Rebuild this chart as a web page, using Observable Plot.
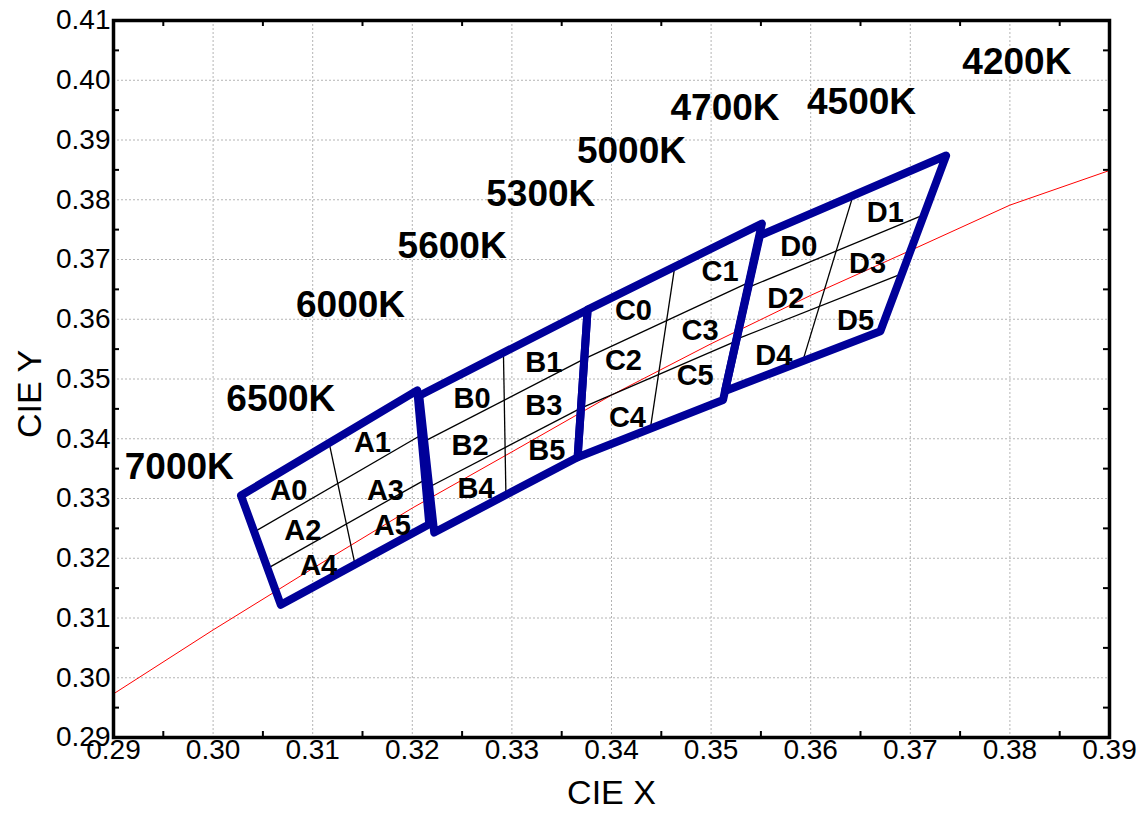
<!DOCTYPE html>
<html><head><meta charset="utf-8">
<script src="https://cdn.jsdelivr.net/npm/d3@7"></script>
<script src="https://cdn.jsdelivr.net/npm/@observablehq/plot@0.6"></script>
<style>body{margin:0;background:#fff;}</style>
</head><body><div id="chart"></div>
<script>
// ---- data (CIE 1931 x,y) ----
const xTicks = [0.29,0.30,0.31,0.32,0.33,0.34,0.35,0.36,0.37,0.38,0.39];
const yTicks = [0.29,0.30,0.31,0.32,0.33,0.34,0.35,0.36,0.37,0.38,0.39,0.40,0.41];
const xMinor = [0.295,0.305,0.315,0.325,0.335,0.345,0.355,0.365,0.375,0.385];
const yMinor = [0.295,0.305,0.315,0.325,0.335,0.345,0.355,0.365,0.375,0.385,0.395,0.405];

// black-body (Planckian) locus, red line
const locusX = [0.29,0.30,0.31,0.32,0.33,0.34,0.35,0.36,0.37,0.38,0.39];
const locusY = [0.2973,0.3080,0.3183,0.3284,0.3378,0.3473,0.3559,0.3640,0.3715,0.3791,0.3849];

// bin quadrangles: TL, TR, BR, BL
const quadA = [[0.3028,0.3305],[0.3205,0.3481],[0.3217,0.3257],[0.3068,0.3122]];
const quadB = [[0.3207,0.3472],[0.3376,0.3616],[0.3366,0.3369],[0.3222,0.3243]];
const quadC = [[0.3376,0.3616],[0.3551,0.3760],[0.3512,0.3465],[0.3366,0.3369]];
const quadD = [[0.3549,0.3740],[0.3736,0.3874],[0.3670,0.3580],[0.3514,0.3480]];
const quadNames = ["A","B","C","D"];

// thin sub-bin dividers: [x1, y1, x2, y2]
const dividers = [
  [0.31165,0.3393,0.31425,0.31895],[0.30413,0.3244,0.3209,0.34063],[0.30547,0.3183,0.3213,0.33317],
  [0.32915,0.3544,0.3294,0.3306],[0.3212,0.33957,0.33727,0.35337],[0.3217,0.33193,0.33693,0.34513],
  [0.34635,0.3688,0.3439,0.3417],[0.33727,0.35337,0.3538,0.36617],[0.33693,0.34513,0.3525,0.35633],
  [0.36425,0.3807,0.3592,0.3530],[0.35373,0.36533,0.3711,0.3773],[0.35257,0.35667,0.3690,0.3675]
];

// sub-bin labels
const binNames  = ["A0","A1","A2","A3","A4","A5","B0","B1","B2","B3","B4","B5","C0","C1","C2","C3","C4","C5","D0","D1","D2","D3","D4","D5"];
const binLabelX = [0.3076,0.3160,0.3090,0.3173,0.3106,0.3180,0.3260,0.3332,0.3258,0.3332,0.3264,0.3335,0.3422,0.3509,0.3412,0.3489,0.3416,0.3484,0.3588,0.3675,0.3575,0.3657,0.3563,0.3645];
const binLabelY = [0.3313,0.3394,0.3246,0.3313,0.3188,0.3255,0.3467,0.3528,0.3389,0.3456,0.3316,0.3380,0.3615,0.3679,0.3531,0.3581,0.3436,0.3506,0.3721,0.3779,0.3634,0.3693,0.3539,0.3598];

// CCT labels
const cctNames = ["7000K","6500K","6000K","5600K","5300K","5000K","4700K","4500K","4200K"];
const cctX = [0.2966,0.3068,0.3138,0.3240,0.3329,0.3420,0.3514,0.3651,0.3807];
const cctY = [0.3352,0.3467,0.3623,0.3723,0.3810,0.3882,0.3954,0.3963,0.4030];

// ---- layout ----
const W = 1144, H = 814, mL = 113, mR = 35, mT = 20, mB = 77;
const frameW = W - mL - mR, frameH = H - mT - mB;

const quadList = [quadA, quadB, quadC, quadD];
const quadRows = quadList.flatMap((q, k) => q.map(([x, y]) => ({group: quadNames[k], x, y})));
const locus = locusX.map((x, i) => ({x, y: locusY[i]}));
const fmt = d3.format(".2f");

const chart = Plot.plot({
  width: W, height: H,
  marginLeft: mL, marginRight: mR, marginTop: mT, marginBottom: mB,
  x: {domain: [0.29, 0.39]},
  y: {domain: [0.29, 0.41]},
  style: {fontFamily: "'Liberation Sans', Arial, sans-serif", background: "white", color: "black"},
  marks: [
    Plot.gridX(xTicks, {stroke: "#b4b4b4", strokeOpacity: 1, strokeDasharray: "2,2"}),
    Plot.gridY(yTicks, {stroke: "#b4b4b4", strokeOpacity: 1, strokeDasharray: "2,2"}),
    Plot.line(locus, {x: "x", y: "y", stroke: "red", strokeWidth: 1}),
    Plot.link(dividers, {x1: d => d[0], y1: d => d[1], x2: d => d[2], y2: d => d[3], stroke: "black", strokeWidth: 1.3}),
    Plot.line(quadRows, {x: "x", y: "y", z: "group", curve: "linear-closed", stroke: "#000099", strokeWidth: 8, strokeLinejoin: "round", strokeLinecap: "round"}),
    Plot.text(binNames, {x: (d, i) => binLabelX[i], y: (d, i) => binLabelY[i], text: d => d, fontSize: 29, fontWeight: "bold", fill: "black"}),
    Plot.text(cctNames, {x: (d, i) => cctX[i], y: (d, i) => cctY[i], text: d => d, fontSize: 37, fontWeight: "bold", fill: "black"}),
    Plot.tickX(xMinor, {x: d => d, insetBottom: frameH - 6, stroke: "black", strokeWidth: 2}),
    Plot.tickX(xMinor, {x: d => d, insetTop: frameH - 6, stroke: "black", strokeWidth: 2}),
    Plot.tickY(yMinor, {y: d => d, insetRight: frameW - 6, stroke: "black", strokeWidth: 2}),
    Plot.tickY(yMinor, {y: d => d, insetLeft: frameW - 6, stroke: "black", strokeWidth: 2}),
    Plot.frame({stroke: "black", strokeWidth: 3.5}),
    Plot.axisX(xTicks, {anchor: "bottom", tickSize: 0, tickPadding: 2, tickFormat: fmt, fontSize: 28, label: null}),
    Plot.axisY(yTicks, {anchor: "left", tickSize: 0, tickPadding: 3, tickFormat: fmt, fontSize: 28, label: null}),
    Plot.text(["CIE X"], {frameAnchor: "bottom", dy: 66, fontSize: 34, text: d => d}),
    Plot.text(["CIE Y"], {frameAnchor: "left", dx: -83, dy: 59, rotate: -90, fontSize: 34, text: d => d})
  ]
});
document.getElementById("chart").appendChild(chart);
</script>
</body></html>
